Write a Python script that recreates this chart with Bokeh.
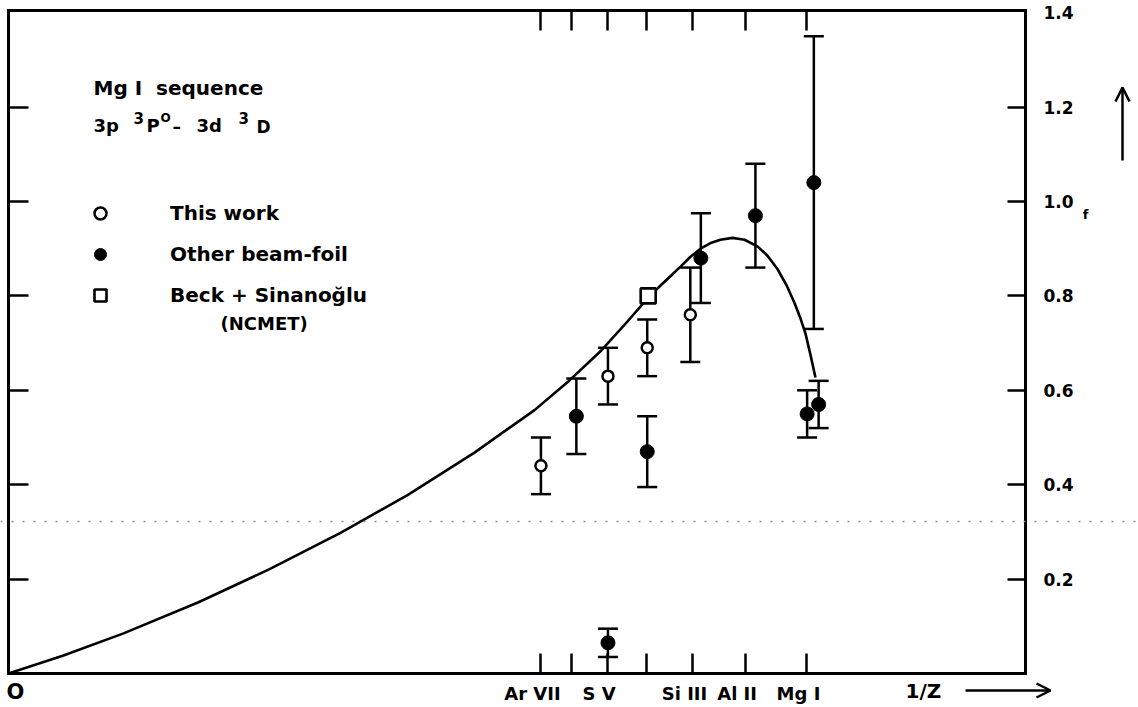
from bokeh.plotting import figure
from bokeh.models import (Range1d, LinearAxis, FixedTicker, Whisker, TeeHead,
                          ColumnDataSource, Legend, LegendItem, Label, Arrow,
                          OpenHead, Span)
from bokeh.core.properties import value
from bokeh.embed import file_html
from bokeh.resources import INLINE

# Mg I isoelectronic sequence: nuclear charge of the ions on the 1/Z axis
ion_z = [18, 17, 16, 15, 14, 13, 12]
ion_names = ["Ar VII", "", "S V", "", "Si III", "Al II", "Mg I"]

# f-values, this work (open circles)
this_x = [0.0556, 0.0626, 0.0667, 0.0712]
this_f = [0.44, 0.63, 0.69, 0.76]
this_err = [0.06, 0.06, 0.06, 0.10]

# f-values, other beam-foil measurements (filled circles)
other_x = [0.0593, 0.0626, 0.0667, 0.0723, 0.0780, 0.0834, 0.0841, 0.0846]
other_f = [0.545, 0.065, 0.47, 0.88, 0.97, 0.55, 1.04, 0.57]
other_err = [0.08, 0.03, 0.075, 0.095, 0.11, 0.05, 0.31, 0.05]

# Beck + Sinanoglu (NCMET)
ncmet_x = [0.0668]
ncmet_f = [0.80]

# smooth curve through the sequence
curve_x = [0.0, 0.00574, 0.01201, 0.01984, 0.02726, 0.03467, 0.04167,
           0.04866, 0.05493, 0.05858, 0.06193, 0.06443, 0.06683, 0.06809,
           0.06934, 0.07018, 0.07122, 0.07226, 0.07331, 0.07435, 0.07560,
           0.07686, 0.07822, 0.07926, 0.08030, 0.08124, 0.08208, 0.08271,
           0.08323, 0.08375, 0.08427]
curve_f = [0.0, 0.038, 0.085, 0.151, 0.221, 0.298, 0.378,
           0.468, 0.558, 0.621, 0.685, 0.741, 0.797, 0.822,
           0.846, 0.862, 0.883, 0.900, 0.912, 0.919, 0.923,
           0.919, 0.905, 0.885, 0.857, 0.823, 0.785, 0.752,
           0.720, 0.675, 0.627]

# f scale on the right-hand side
f_ticks = [0.2, 0.4, 0.6, 0.8, 1.0, 1.2, 1.4]
f_labels = ["0.2", "0.4", "0.6", "0.8", "1.0", "1.2", "1.4"]

FONT = "DejaVu Sans"
INK = "black"

# extent of the boxed region in data units
X1 = 0.1062
Y1 = 1.4047
# the frame fills the whole page; the box is drawn by axes pinned in place
W, H = 1138, 707
PX_X = 9576.0   # pixels per unit of 1/Z
PX_F = 472.0    # pixels per unit of f
LEFT, BOTTOM = 8, 673

p = figure(width=W, height=H, output_backend="svg", toolbar_location=None,
           x_range=Range1d(-LEFT / PX_X, (W - LEFT) / PX_X),
           y_range=Range1d(-(H - BOTTOM) / PX_F, BOTTOM / PX_F),
           x_axis_location=None, y_axis_location=None,
           min_border=0)
p.grid.visible = False
p.outline_line_color = None
p.background_fill_color = "white"
p.border_fill_color = "white"

x_ticks = [1.0 / z for z in ion_z]


def box_side(ticks, where, bounds, tick_len=20):
    return LinearAxis(ticker=FixedTicker(ticks=ticks, minor_ticks=[]),
                      fixed_location=where, bounds=bounds,
                      axis_line_width=3, axis_line_color=INK,
                      axis_line_cap="square",
                      major_tick_in=tick_len, major_tick_out=0,
                      major_tick_line_width=2.5, major_tick_line_color=INK,
                      minor_tick_in=0, minor_tick_out=0,
                      major_label_text_font_size="0px",
                      major_label_text_color=None,
                      major_label_standoff=0)


p.add_layout(box_side(x_ticks, 0.0, (0.0, X1)), "below")
p.add_layout(box_side(x_ticks, Y1, (0.0, X1)), "above")
p.add_layout(box_side(f_ticks[:-1], 0.0, (0.0, Y1)), "left")
p.add_layout(box_side(f_ticks[:-1], X1, (0.0, Y1), tick_len=18), "right")

# tick labels along the bottom and the right-hand side
p.text(x=x_ticks, y=[0.0] * len(x_ticks), text=ion_names,
       x_offset=-8, y_offset=9, text_align="center", text_baseline="top",
       text_font=value(FONT), text_font_style="bold",
       text_font_size="18px", text_color=INK)
p.text(x=[X1] * len(f_ticks), y=f_ticks, text=f_labels,
       x_offset=18, text_align="left", text_baseline="middle",
       text_font=value(FONT), text_font_style="bold",
       text_font_size="17px", text_color=INK)

# faint dotted trace across the sheet
p.add_layout(Span(location=0.322, dimension="width", line_color="#8a8a8a",
                  line_width=1.3, line_dash="2 9"))

# theoretical curve
p.line(curve_x, curve_f, line_width=2.6, line_color=INK, line_join="round")

# error bars
src_this = ColumnDataSource(dict(x=this_x, f=this_f,
                                 lo=[f - e for f, e in zip(this_f, this_err)],
                                 hi=[f + e for f, e in zip(this_f, this_err)]))
src_other = ColumnDataSource(dict(x=other_x, f=other_f,
                                  lo=[f - e for f, e in zip(other_f, other_err)],
                                  hi=[f + e for f, e in zip(other_f, other_err)]))
for src in (src_this, src_other):
    p.add_layout(Whisker(source=src, base="x", lower="lo", upper="hi",
                         dimension="height", line_width=2.5, line_color=INK,
                         upper_head=TeeHead(size=20, line_width=2.5, line_color=INK),
                         lower_head=TeeHead(size=20, line_width=2.5, line_color=INK)))

r_other = p.scatter("x", "f", source=src_other, marker="circle", size=14,
                    fill_color=INK, line_color=INK, line_width=1)
r_this = p.scatter("x", "f", source=src_this, marker="circle", size=11,
                   fill_color="white", line_color=INK, line_width=2.5)
r_ncmet = p.scatter(ncmet_x, ncmet_f, marker="square", size=15,
                    fill_color="white", line_color=INK, line_width=2.6)

legend = Legend(items=[LegendItem(label="This work", renderers=[r_this]),
                       LegendItem(label="Other beam-foil", renderers=[r_other]),
                       LegendItem(label="Beck + Sinanoğlu", renderers=[r_ncmet])],
                location=(85, 397), orientation="vertical",
                glyph_width=30, glyph_height=30, label_height=30,
                label_standoff=55, spacing=11, padding=0, margin=0,
                border_line_color=None, background_fill_alpha=0,
                label_text_font=FONT, label_text_font_style="bold",
                label_text_font_size="20px", label_text_color=INK)
p.add_layout(legend)


def note(x, y, text, size="19px", align="left", baseline="alphabetic"):
    # x, y in pixels from the lower-left corner of the page
    p.add_layout(Label(x=x, y=y, x_units="screen", y_units="screen",
                       text=text, text_font=FONT, text_font_style="bold",
                       text_font_size=size, text_color=INK,
                       text_align=align, text_baseline=baseline))


# heading (non-breaking spaces keep the wide gap)
note(93, H - 87, "Mg I\u00a0\u00a0sequence", size="20px")
# transition 3p 3P0 - 3d 3D, superscripts set smaller and raised
note(93, H - 125, "3p", size="18px")
note(133, H - 117, "3", size="15px")
note(146, H - 125, "P", size="18px")
note(160, H - 117, "O", size="12px")
note(172, H - 126, "–", size="17px")
note(196, H - 125, "3d", size="18px")
note(238, H - 117, "3", size="15px")
note(256, H - 126, "D", size="17px")

note(220, H - 323, "(NCMET)", size="18px", baseline="middle")

# axis annotations outside the box
note(6, H - 691, "O", size="21px", baseline="middle")
note(905, H - 690, "1/Z", size="20px", baseline="middle")
note(1085, H - 214, "f", size="13px", align="center", baseline="middle")

p.add_layout(Arrow(x_start=965, y_start=H - 690, x_end=1050, y_end=H - 690,
                   start_units="screen", end_units="screen",
                   line_width=2.5, line_color=INK,
                   end=OpenHead(size=14, line_width=2.5, line_color=INK)))
p.add_layout(Arrow(x_start=1122, y_start=H - 160, x_end=1122, y_end=H - 87,
                   start_units="screen", end_units="screen",
                   line_width=2.5, line_color=INK,
                   end=OpenHead(size=14, line_width=2.5, line_color=INK)))

open("out.html", "w").write(file_html(p, INLINE))
